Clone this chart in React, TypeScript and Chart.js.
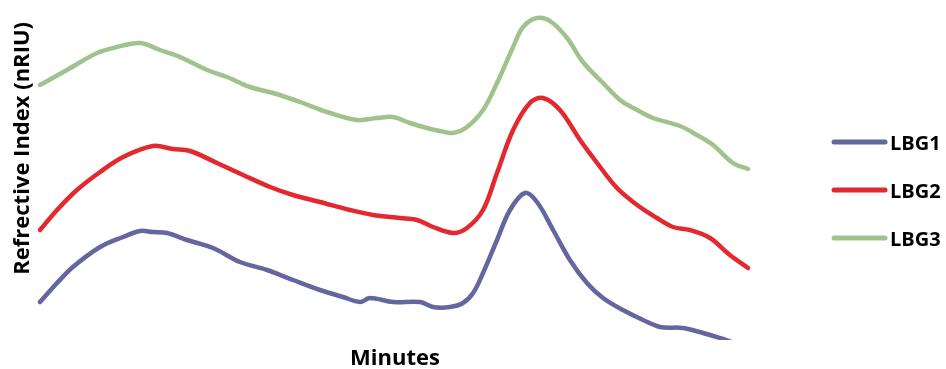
import React, { useEffect, useRef } from "react";
import { Chart, registerables } from "chart.js";

Chart.register(...registerables);

// Detector traces, refractive index (nRIU) against retention time (minutes)
const seriesNames = ["LBG1", "LBG2", "LBG3"];
const seriesColors = ["#6466A0", "#E3282F", "#A0C38E"];

const lbg1Minutes = [
  0, 0.72, 1.39, 2.54, 3.51, 4.23, 4.77, 5.37, 6.21, 7.31, 8.45, 9.59, 10.69, 11.83,
  12.8, 13.52, 13.94, 14.92, 16.06, 16.61, 17.32, 17.87, 18.3, 18.72, 19.31, 19.86,
  20.49, 21.0, 21.68, 22.39, 23.11, 23.79, 24.63, 25.48, 26.2, 27.17, 28.01, 28.86, 29.92,
];
const lbg1Values = [
  3.8, 5.7, 7.3, 9.3, 10.3, 10.9, 10.8, 10.7, 10.0, 9.2, 7.8, 7.0, 6.0, 5.0,
  4.3, 3.8, 4.2, 3.8, 3.8, 3.3, 3.3, 3.7, 4.7, 6.7, 10.0, 13.0,
  14.7, 13.8, 11.0, 8.0, 5.7, 4.2, 3.0, 2.0, 1.3, 1.2, 0.7, 0.1, -0.8,
];

const lbg2Minutes = [
  0, 0.72, 1.56, 2.54, 3.51, 4.77, 5.62, 6.34, 7.48, 8.58, 9.72, 10.69, 11.83, 13.1,
  14.07, 15.21, 15.93, 16.61, 17.45, 18.04, 18.72, 19.31, 19.99, 20.7, 21.25, 21.97,
  22.82, 23.54, 24.38, 25.23, 26.07, 26.75, 27.46, 28.31, 29.15, 29.92,
];
const lbg2Values = [
  11.0, 13.0, 15.0, 16.8, 18.3, 19.4, 19.1, 18.9, 17.7, 16.5, 15.3, 14.5, 13.8, 13.0,
  12.5, 12.2, 12.0, 11.3, 10.7, 11.2, 13.0, 16.7, 21.0, 23.7, 24.2, 23.0,
  20.0, 17.7, 15.2, 13.5, 12.2, 11.3, 11.0, 10.2, 8.5, 7.2,
];

const lbg3Minutes = [
  0, 1.14, 2.41, 3.25, 4.23, 5.07, 5.92, 7.06, 7.9, 8.87, 9.85, 10.99, 12.13, 13.39,
  14.24, 14.92, 15.63, 16.35, 16.9, 17.45, 18.04, 18.72, 19.31, 19.99, 20.41, 21.0,
  21.55, 22.27, 22.94, 23.79, 24.51, 25.23, 25.9, 27.04, 27.76, 28.44, 29.28, 29.92,
];
const lbg3Values = [
  25.5, 27.0, 28.7, 29.3, 29.7, 29.0, 28.3, 27.0, 26.3, 25.3, 24.7, 23.8, 22.8, 22.0,
  22.2, 22.3, 21.7, 21.2, 20.9, 20.7, 21.3, 23.0, 25.7, 29.3, 31.3, 32.2,
  31.9, 30.2, 27.8, 25.7, 24.0, 23.0, 22.2, 21.4, 20.5, 19.5, 17.7, 17.1,
];

const seriesMinutes = [lbg1Minutes, lbg2Minutes, lbg3Minutes];
const seriesValues = [lbg1Values, lbg2Values, lbg3Values];

const FONT = '"Open Sans", "Liberation Sans", sans-serif';

// Legend drawn beside the plot: a short line swatch and a bold label per trace
const sideLegend = {
  id: "sideLegend",
  afterDraw(chart: any) {
    const { ctx, chartArea } = chart;
    const startX = chartArea.right + 84;
    const swatch = 51;
    const firstRow = 142;
    const rowStep = 48;
    ctx.save();
    chart.data.datasets.forEach((ds: any, i: number) => {
      const y = firstRow + i * rowStep;
      ctx.strokeStyle = ds.borderColor;
      ctx.lineWidth = 5;
      ctx.lineCap = "round";
      ctx.beginPath();
      ctx.moveTo(startX, y);
      ctx.lineTo(startX + swatch, y);
      ctx.stroke();
      ctx.fillStyle = "#000";
      ctx.font = `bold 20px ${FONT}`;
      ctx.textAlign = "left";
      ctx.textBaseline = "alphabetic";
      ctx.fillText(ds.label, startX + swatch + 5, y + 8);
    });
    ctx.restore();
  },
};

export default function App() {
  const canvasRef = useRef<HTMLCanvasElement | null>(null);

  useEffect(() => {
    if (!canvasRef.current) return;
    const datasets = seriesNames.map((name, i) => ({
      label: name,
      data: seriesMinutes[i].map((m, j) => ({ x: m, y: seriesValues[i][j] })),
      borderColor: seriesColors[i],
      backgroundColor: seriesColors[i],
      borderWidth: 4.5,
      borderCapStyle: "round" as const,
      borderJoinStyle: "round" as const,
      pointRadius: 0,
      tension: 0.35,
      clip: { left: false, top: false, right: false, bottom: 0 },
    }));

    const chart = new Chart(canvasRef.current, {
      type: "line",
      data: { datasets },
      options: {
        animation: false,
        responsive: true,
        maintainAspectRatio: false,
        layout: { padding: { top: 22, left: 0, right: 196, bottom: 0 } },
        plugins: {
          legend: { display: false },
          tooltip: { enabled: false },
        },
        scales: {
          x: {
            type: "linear",
            min: 0,
            max: 30,
            grid: { display: false, drawTicks: false },
            border: { display: false },
            ticks: { display: false },
            title: {
              display: true,
              text: "Minutes",
              color: "#000",
              font: { family: FONT, size: 22, weight: "bold", lineHeight: 1 },
              padding: { top: 7.5, bottom: -0.5 },
            },
          },
          y: {
            type: "linear",
            min: 0,
            max: 31.8,
            grid: { display: false, drawTicks: false },
            border: { display: false },
            ticks: { display: false },
            title: {
              display: true,
              text: "Refrective Index (nRIU)",
              align: "end",
              color: "#000",
              font: { family: FONT, size: 22, weight: "bold", lineHeight: 1 },
              padding: { top: 11.5, bottom: 6.5 },
            },
          },
        },
      },
      plugins: [sideLegend],
    });
    return () => chart.destroy();
  }, []);

  return (
    <div style={{ position: "fixed", left: 0, top: 0, width: 946, height: 369, background: "#fff" }}>
      <canvas ref={canvasRef} />
    </div>
  );
}
